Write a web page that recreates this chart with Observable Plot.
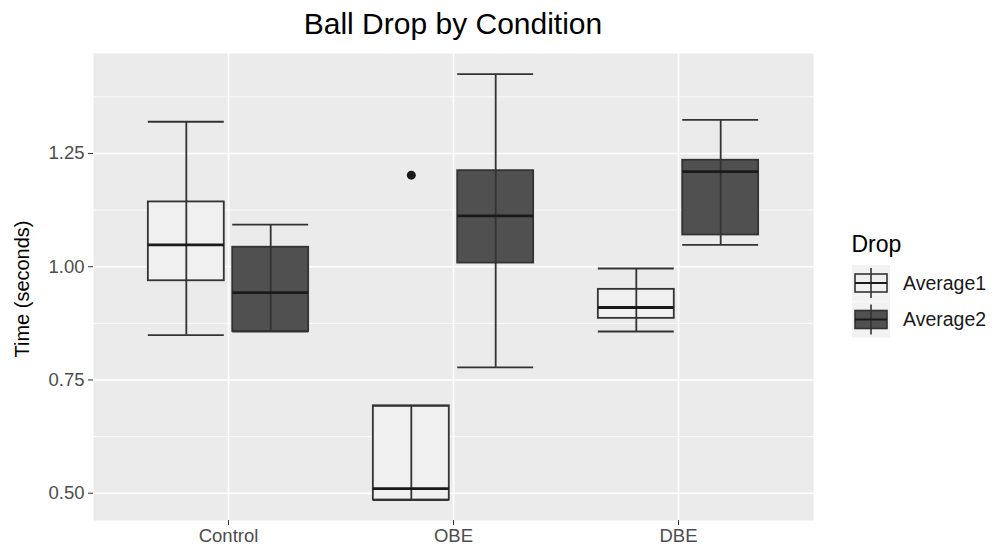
<!DOCTYPE html>
<html>
<head>
<meta charset="utf-8">
<script src="https://cdn.jsdelivr.net/npm/d3@7"></script>
<script src="https://cdn.jsdelivr.net/npm/@observablehq/plot@0.6"></script>
<style>
  html, body { margin: 0; padding: 0; background: #fff; }
  #wrap { position: relative; width: 993px; height: 547px; font-family: "Liberation Sans", Arial, sans-serif; overflow: hidden; }
  #title { position: absolute; left: 93px; width: 720px; top: 7px; text-align: center; font-size: 30px; color: #000; white-space: nowrap; }
  #ylab { position: absolute; left: 22px; top: 289px; transform: translate(-50%, -50%) rotate(-90deg); font-size: 20px; color: #000; white-space: nowrap; }
  #chart { position: absolute; left: 0; top: 0; }
  #legend { position: absolute; left: 845px; top: 228px; }
</style>
</head>
<body>
<div id="wrap">
  <div id="chart"></div>
  <div id="title">Ball Drop by Condition</div>
  <div id="ylab">Time (seconds)</div>
  <div id="legend"></div>
</div>
<script>
// ---- data ----
const conditions = ["Control", "OBE", "DBE"];
const drops = ["Average1", "Average2"];
// Average1 box statistics per condition
const avg1Min    = [0.849, 0.485, 0.857];
const avg1Q1     = [0.969, 0.485, 0.886];
const avg1Median = [1.048, 0.510, 0.910];
const avg1Q3     = [1.143, 0.693, 0.950];
const avg1Max    = [1.320, 0.693, 0.996];
// Average2 box statistics per condition
const avg2Min    = [0.857, 0.778, 1.048];
const avg2Q1     = [0.857, 1.008, 1.070];
const avg2Median = [0.943, 1.112, 1.210];
const avg2Q3     = [1.043, 1.212, 1.235];
const avg2Max    = [1.093, 1.425, 1.324];
// outliers
const outlierCondition = ["OBE"];
const outlierDrop = ["Average1"];
const outlierValue = [1.202];
// axis ticks
const yMajorTicks = [0.50, 0.75, 1.00, 1.25];
const yMinorTicks = [0.625, 0.875, 1.125, 1.375];

// ---- styling ----
const fills = {Average1: "#f0f0f0", Average2: "#505050"};
const strokeCol = "#333333";
const dodge = 0.1875, halfW = 0.16875;

const stats = [
  {drop: "Average1", min: avg1Min, q1: avg1Q1, med: avg1Median, q3: avg1Q3, max: avg1Max},
  {drop: "Average2", min: avg2Min, q1: avg2Q1, med: avg2Median, q3: avg2Q3, max: avg2Max}
];
const offset = d => (d === "Average1" ? -dodge : dodge);
const boxes = [];
for (const s of stats) {
  conditions.forEach((c, i) => {
    const xc = i + 1 + offset(s.drop);
    boxes.push({condition: c, drop: s.drop, xc, x1: xc - halfW, x2: xc + halfW,
      min: s.min[i], q1: s.q1[i], med: s.med[i], q3: s.q3[i], max: s.max[i]});
  });
}
const outliers = outlierCondition.map((c, i) => ({
  x: conditions.indexOf(c) + 1 + offset(outlierDrop[i]), y: outlierValue[i]
}));

const plot = Plot.plot({
  width: 993, height: 547,
  marginLeft: 93, marginRight: 180, marginTop: 53, marginBottom: 27,
  style: {fontFamily: "Liberation Sans, Arial, sans-serif", fontSize: "18.5px", color: "#4d4d4d", background: "transparent"},
  x: {type: "linear", domain: [0.4, 3.6]},
  y: {domain: [0.4398, 1.4706]},
  marks: [
    Plot.frame({fill: "#ebebeb", stroke: "none"}),
    Plot.ruleY(yMinorTicks, {stroke: "#ffffff", strokeWidth: 0.8}),
    Plot.ruleY(yMajorTicks, {stroke: "#ffffff", strokeWidth: 1.6}),
    Plot.ruleX([1, 2, 3], {stroke: "#ffffff", strokeWidth: 1.6}),
    // boxes
    Plot.rect(boxes, {x1: "x1", x2: "x2", y1: "q1", y2: "q3", fill: d => fills[d.drop], stroke: strokeCol, strokeWidth: 1.8}),
    // whisker line through
    Plot.ruleX(boxes, {x: "xc", y1: "min", y2: "max", stroke: strokeCol, strokeWidth: 1.8}),
    // caps
    Plot.ruleY(boxes, {y: "min", x1: "x1", x2: "x2", stroke: strokeCol, strokeWidth: 1.8}),
    Plot.ruleY(boxes, {y: "max", x1: "x1", x2: "x2", stroke: strokeCol, strokeWidth: 1.8}),
    // median
    Plot.ruleY(boxes, {y: "med", x1: "x1", x2: "x2", stroke: "#1a1a1a", strokeWidth: 2.8}),
    // outliers
    Plot.dot(outliers, {x: "x", y: "y", r: 4.5, fill: "#1a1a1a", stroke: "none"}),
    Plot.axisX([1, 2, 3], {tickFormat: d => conditions[d - 1], tickSize: 5, tickPadding: 3, label: null, stroke: "#333"}),
    Plot.axisY(yMajorTicks, {tickFormat: d3.format(".2f"), tickSize: 5, tickPadding: 4, label: null, stroke: "#333"})
  ]
});
document.getElementById("chart").appendChild(plot);

// ---- legend ----
const lg = d3.select("#legend").append("svg").attr("width", 148).attr("height", 120)
  .style("font-family", "Liberation Sans, Arial, sans-serif");
lg.append("text").attr("x", 6.5).attr("y", 23.5).attr("font-size", 23).attr("fill", "#000").text("Drop");
drops.forEach((d, i) => {
  const y0 = 37 + i * 36.5;
  const g = lg.append("g").attr("transform", `translate(7,${y0})`);
  g.append("rect").attr("width", 38).attr("height", 36).attr("fill", "#f2f2f2");
  g.append("line").attr("x1", 19).attr("x2", 19).attr("y1", 3).attr("y2", 33).attr("stroke", strokeCol).attr("stroke-width", 1.6);
  g.append("rect").attr("x", 3).attr("y", 9).attr("width", 32).attr("height", 18)
    .attr("fill", fills[d]).attr("stroke", strokeCol).attr("stroke-width", 1.6);
  g.append("line").attr("x1", 19).attr("x2", 19).attr("y1", 9).attr("y2", 27).attr("stroke", strokeCol).attr("stroke-width", 1.6);
  g.append("line").attr("x1", 3).attr("x2", 35).attr("y1", 18).attr("y2", 18).attr("stroke", "#1a1a1a").attr("stroke-width", 2);
  lg.append("text").attr("x", 58).attr("y", y0 + 18).attr("dy", "0.35em").attr("font-size", 19.5).attr("fill", "#1a1a1a").text(d);
});
</script>
</body>
</html>
